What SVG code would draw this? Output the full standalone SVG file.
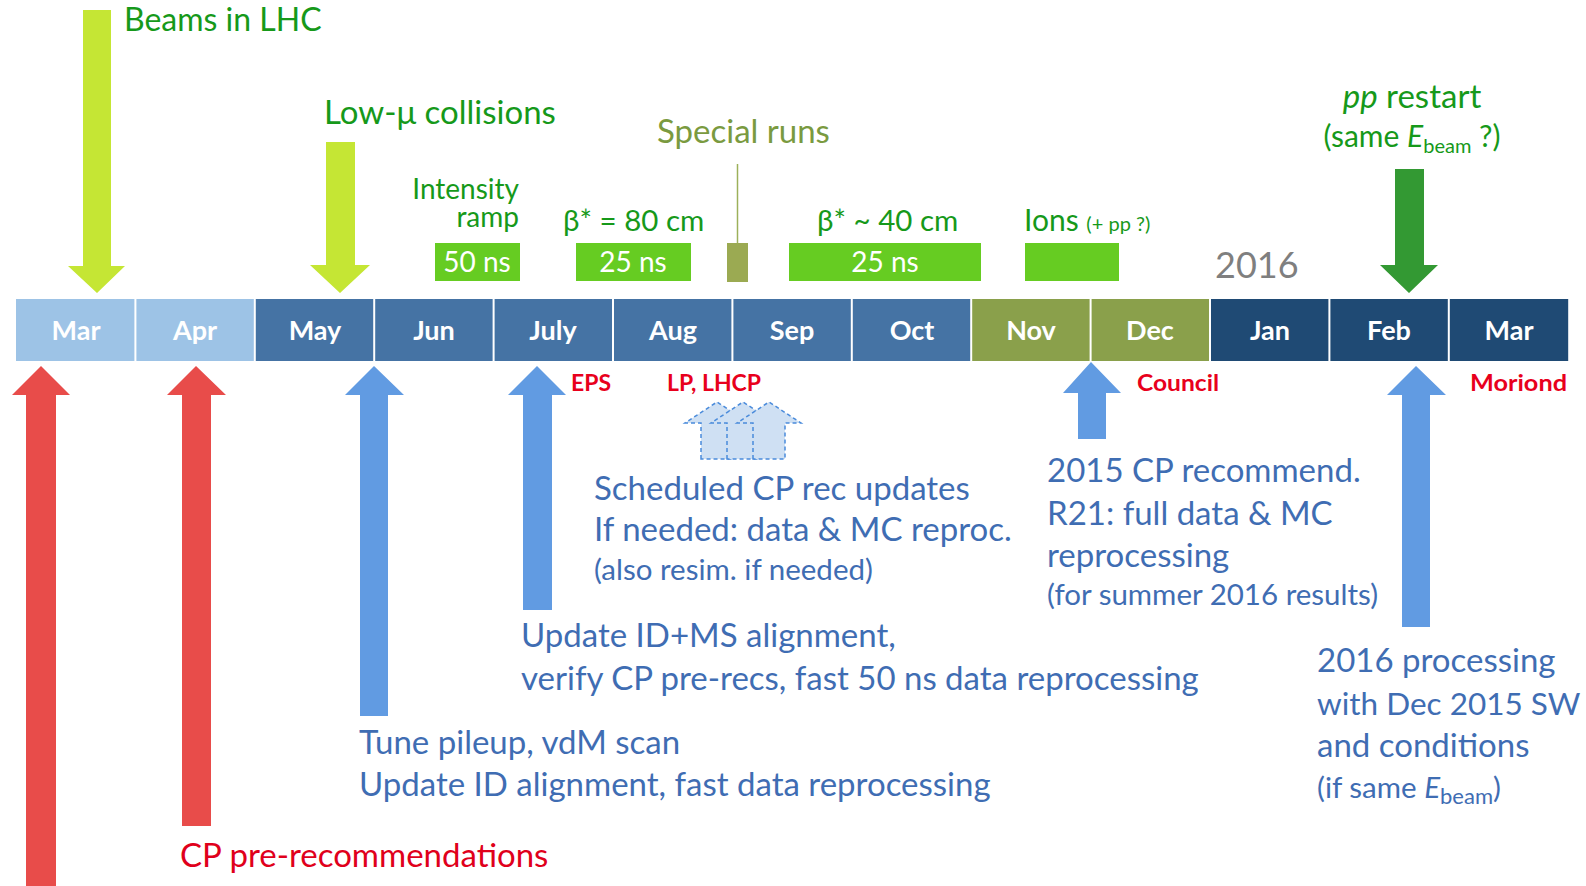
<svg xmlns="http://www.w3.org/2000/svg" width="1586" height="886" viewBox="0 0 1586 886">
<style>
.t{font-family:Lato,"Open Sans","Liberation Sans",sans-serif}
.mon{font-family:Lato,"Liberation Sans",sans-serif;font-weight:bold;font-size:27px;fill:#fff;text-anchor:middle}
.grn{fill:#16991a;font-size:33px}
.blu{fill:#3f6db3;font-size:33px}
.blus{fill:#3f6db3;font-size:29.5px}
.red{fill:#e8001c;font-weight:bold;font-size:23px}
.box{fill:#66cc22}
.boxt{fill:#fff;font-size:28px;text-anchor:middle}
.lime{fill:#c5e634}
.redA{fill:#e84c4a}
.bluA{fill:#619be2}
.dash{fill:#cfe0f3;stroke:#4a8bdb;stroke-width:1.5;stroke-dasharray:4 3}
</style>
<rect width="1586" height="886" fill="#fff"/>
<g id="timeline">
<rect x="16" y="299" width="119.4" height="62" fill="#9dc3e6"/>
<rect x="135.4" y="299" width="119.4" height="62" fill="#9dc3e6"/>
<rect x="254.8" y="299" width="716.4" height="62" fill="#4573a4"/>
<rect x="971.2" y="299" width="238.8" height="62" fill="#8aa04b"/>
<rect x="1210" y="299" width="358.2" height="62" fill="#1f4a74"/>
<g stroke="#fff" stroke-width="2">
<line x1="135.4" y1="299" x2="135.4" y2="361"/><line x1="254.8" y1="299" x2="254.8" y2="361"/><line x1="374.2" y1="299" x2="374.2" y2="361"/><line x1="493.6" y1="299" x2="493.6" y2="361"/><line x1="613" y1="299" x2="613" y2="361"/><line x1="732.4" y1="299" x2="732.4" y2="361"/><line x1="851.8" y1="299" x2="851.8" y2="361"/><line x1="971.2" y1="299" x2="971.2" y2="361"/><line x1="1090.6" y1="299" x2="1090.6" y2="361"/><line x1="1210" y1="299" x2="1210" y2="361"/><line x1="1329.4" y1="299" x2="1329.4" y2="361"/><line x1="1448.8" y1="299" x2="1448.8" y2="361"/>
</g>
<text class="mon" x="76" y="340">Mar</text>
<text class="mon" x="195" y="340">Apr</text>
<text class="mon" x="315" y="340">May</text>
<text class="mon" x="434" y="340">Jun</text>
<text class="mon" x="553" y="340">July</text>
<text class="mon" x="673" y="340">Aug</text>
<text class="mon" x="792" y="340">Sep</text>
<text class="mon" x="912" y="340">Oct</text>
<text class="mon" x="1031" y="340">Nov</text>
<text class="mon" x="1150" y="340">Dec</text>
<text class="mon" x="1270" y="340">Jan</text>
<text class="mon" x="1389" y="340">Feb</text>
<text class="mon" x="1509" y="340">Mar</text>
</g>
<g id="beams">
<path class="lime" d="M83,10 H111 V266 H125 L97,293 L68,266 H83 Z"/>
<text class="t grn" x="124" y="31" style="font-size:32px">Beams in LHC</text>
</g>
<g id="lowmu">
<path class="lime" d="M326,142 H355 V265 H370 L340,293 L310,265 H326 Z"/>
<text class="t grn" x="324" y="124">Low-μ collisions</text>
</g>
<g id="intensity">
<text class="t grn" x="519" y="199" text-anchor="end" style="font-size:28px">Intensity</text>
<text class="t grn" x="519" y="227" text-anchor="end" style="font-size:28px">ramp</text>
<rect class="box" x="435" y="243" width="85" height="38"/>
<text class="t boxt" x="477" y="272">50 ns</text>
</g>
<g id="beta80">
<text class="t grn" x="563" y="231" style="font-size:29.5px">β* = 80 cm</text>
<rect class="box" x="576" y="243" width="115" height="38"/>
<text class="t boxt" x="633" y="272">25 ns</text>
</g>
<g id="special">
<text class="t" x="657" y="143" font-size="33" fill="#7a9a40">Special runs</text>
<line x1="737.5" y1="164" x2="737.5" y2="243" stroke="#9cb05a" stroke-width="1.5"/>
<rect x="727" y="243" width="21" height="39" fill="#9baa52"/>
</g>
<g id="beta40">
<text class="t grn" x="817" y="231" style="font-size:29.5px">β* ~ 40 cm</text>
<rect class="box" x="789" y="243" width="192" height="38"/>
<text class="t boxt" x="885" y="272">25 ns</text>
</g>
<g id="ions">
<text class="t grn" x="1024" y="231" style="font-size:30px">Ions <tspan style="font-size:20px">(+ pp ?)</tspan></text>
<rect class="box" x="1025" y="243" width="94" height="38"/>
</g>
<g id="y2016">
<text class="t" x="1215" y="278" font-size="36" fill="#7f7f7f">2016</text>
</g>
<g id="pprestart">
<text class="t grn" x="1412" y="108" text-anchor="middle"><tspan font-style="italic">pp</tspan> restart</text>
<text class="t grn" x="1412" y="147" text-anchor="middle" style="font-size:30px">(same <tspan font-style="italic">E</tspan><tspan style="font-size:20px" dy="6">beam</tspan><tspan dy="-6"> ?)</tspan></text>
<path fill="#339933" d="M1395,169 H1424 V265 H1438 L1409,293 L1380,265 H1395 Z"/>
</g>
<g id="labels">
<text class="t red" x="571" y="391" textLength="40" lengthAdjust="spacingAndGlyphs">EPS</text>
<text class="t red" x="667" y="391" textLength="94" lengthAdjust="spacingAndGlyphs">LP, LHCP</text>
<text class="t red" x="1137" y="391" textLength="82" lengthAdjust="spacingAndGlyphs">Council</text>
<text class="t red" x="1470" y="391" textLength="97" lengthAdjust="spacingAndGlyphs">Moriond</text>
</g>
<g id="prerec1">
<path class="redA" d="M26,886 V395 H12 L41,366 L70,395 H56 V886 Z"/>
</g>
<g id="prerec2">
<path class="redA" d="M182,826 V395 H167 L196,366 L226,395 H211 V826 Z"/>
<text class="t" x="180" y="867" font-size="33" fill="#e0001b">CP pre-recommendations</text>
</g>
<g id="tune">
<path class="bluA" d="M360,716 V395 H345 L374,366 L404,395 H388 V716 Z"/>
<text class="t blu" x="359" y="754">Tune pileup, vdM scan</text>
<text class="t blu" x="359" y="796">Update ID alignment, fast data reprocessing</text>
</g>
<g id="align">
<path class="bluA" d="M523,610 V395 H508 L537,366 L566,395 H552 V610 Z"/>
<text class="t blu" x="521" y="647">Update ID+MS alignment,</text>
<text class="t blu" x="521" y="690">verify CP pre-recs, fast 50 ns data reprocessing</text>
</g>
<g id="scheduled">
<path class="dash" d="M701,459 V423 H685 L717,402 L749,423 H733 V459 Z"/>
<path class="dash" d="M727,459 V423 H711 L743,402 L775,423 H759 V459 Z"/>
<path class="dash" d="M753,459 V423 H737 L769,402 L801,423 H785 V459 Z"/>
<text class="t blu" x="594" y="500">Scheduled CP rec updates</text>
<text class="t blu" x="594" y="541">If needed: data &amp; MC reproc.</text>
<text class="t blus" x="594" y="580">(also resim. if needed)</text>
</g>
<g id="recommend">
<path class="bluA" d="M1078,439 V393 H1063 L1091,362 L1121,393 H1106 V439 Z"/>
<text class="t blu" x="1047" y="482">2015 CP recommend.</text>
<text class="t blu" x="1047" y="525">R21: full data &amp; MC</text>
<text class="t blu" x="1047" y="567">reprocessing</text>
<text class="t blus" x="1047" y="605">(for summer 2016 results)</text>
</g>
<g id="processing2016">
<path class="bluA" d="M1402,627 V395 H1387 L1416,366 L1446,395 H1430 V627 Z"/>
<text class="t blu" x="1317" y="672">2016 processing</text>
<text class="t blu" x="1317" y="715" style="font-size:31.5px">with Dec 2015 SW</text>
<text class="t blu" x="1317" y="757">and conditions</text>
<text class="t blus" x="1317" y="798">(if same <tspan font-style="italic">E</tspan><tspan style="font-size:22px" dy="6">beam</tspan><tspan dy="-6">)</tspan></text>
</g>
</svg>
